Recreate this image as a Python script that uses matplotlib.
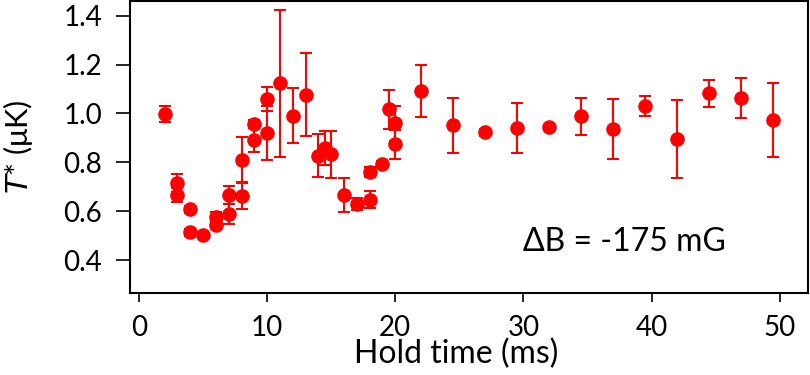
import matplotlib
matplotlib.use("Agg")
import matplotlib.pyplot as plt

# Hold time (ms), T* (uK) and error bars
hold_time = [2.0, 3.0, 3.0, 4.0, 4.0, 5.0, 6.0, 6.0, 7.0, 7.0, 8.0, 8.0,
             9.0, 9.0, 10.0, 10.0, 11.0, 12.0, 13.0, 14.0, 14.5, 15.0,
             16.0, 17.0, 18.0, 18.0, 19.0, 19.5, 20.0, 20.0, 22.0, 24.5,
             27.0, 29.5, 32.0, 34.5, 37.0, 39.5, 42.0, 44.5, 47.0, 49.5]
temperature = [0.997, 0.715, 0.666, 0.607, 0.513, 0.502, 0.578, 0.545, 0.666, 0.588, 0.809, 0.663,
               0.956, 0.891, 1.060, 0.921, 1.123, 0.990, 1.076, 0.827, 0.859, 0.832,
               0.665, 0.628, 0.760, 0.647, 0.793, 1.016, 0.959, 0.874, 1.093, 0.951,
               0.922, 0.939, 0.944, 0.988, 0.935, 1.030, 0.894, 1.082, 1.063, 0.973]
temp_err = [0.033, 0.035, 0.030, 0.015, 0.015, 0.010, 0.020, 0.020, 0.035, 0.040, 0.095, 0.055,
            0.015, 0.050, 0.050, 0.110, 0.300, 0.113, 0.170, 0.087, 0.070, 0.095,
            0.070, 0.025, 0.020, 0.035, 0.012, 0.080, 0.070, 0.060, 0.107, 0.114,
            0.015, 0.103, 0.010, 0.075, 0.123, 0.040, 0.160, 0.056, 0.082, 0.150]

x_ticks = [0, 10, 20, 30, 40, 50]
y_ticks = [0.4, 0.6, 0.8, 1.0, 1.2, 1.4]

plt.rcParams['font.family'] = ['Lato', 'DejaVu Sans']

fig = plt.figure(figsize=(8.1, 3.75), dpi=100)
ax = fig.add_axes([130 / 810, 1 - 293 / 375, 678 / 810, 292 / 375])

ax.errorbar(hold_time, temperature, yerr=temp_err, fmt='o', color='#ff0000',
            markersize=9.5, elinewidth=1.5, capsize=4.5, capthick=1.5)

ax.set_xlim(-0.7, 52.2)
ax.set_ylim(0.265, 1.46)
ax.set_xticks(x_ticks)
ax.set_yticks(y_ticks)
ax.set_yticklabels([f'{v:.1f}' for v in y_ticks])

for side in ax.spines.values():
    side.set_linewidth(1.5)
ax.tick_params(axis='both', direction='out', labelsize=20, width=1.2)
ax.tick_params(axis='x', length=6.5, pad=9)
ax.tick_params(axis='y', length=10, pad=10)

ax.set_xlabel('Hold time (ms)', fontsize=23)
ax.xaxis.set_label_coords(0.481, -0.158)
ax.set_ylabel(r'$\it{T}$* (μK)', fontsize=22)
ax.yaxis.set_label_coords(-0.14, 0.5)

ax.text(0.729, 0.144, 'ΔB = -175 mG', transform=ax.transAxes,
        fontsize=23, ha='center', va='baseline')

fig.savefig('out.png', dpi=100)
